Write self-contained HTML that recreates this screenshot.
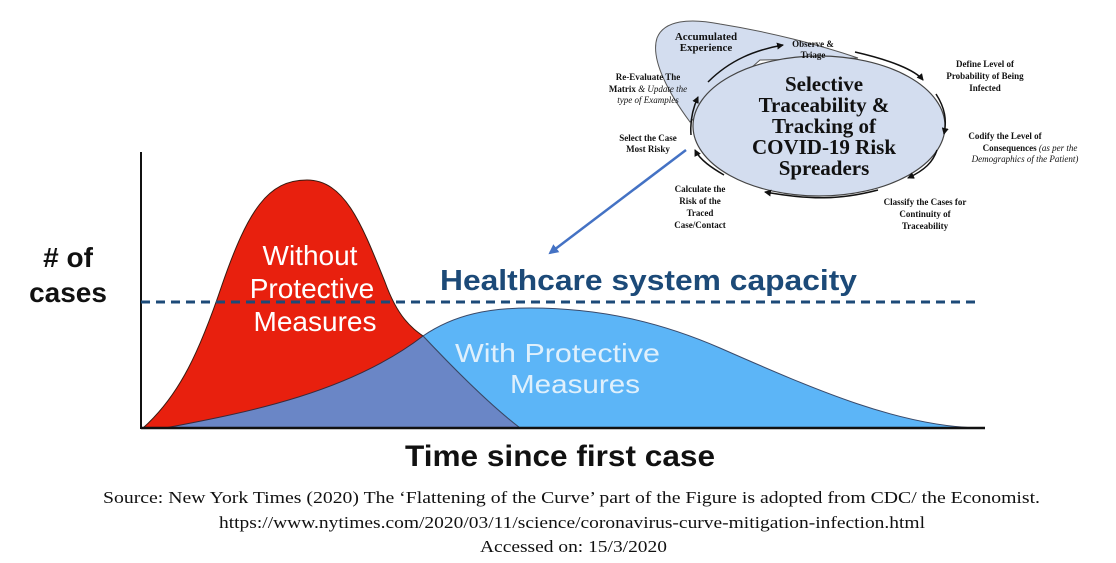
<!DOCTYPE html>
<html><head><meta charset="utf-8"><style>
html,body{margin:0;padding:0;background:#fff;}
svg{display:block;}
</style></head><body>
<svg width="1116" height="563" viewBox="0 0 1116 563" xmlns="http://www.w3.org/2000/svg">
<defs>
<clipPath id="blueclip"><path d="M165,428 C250,412 350,392 423,336 C455,314 490,308 530,308 C600,308 660,322 720,348 C820,392 900,426 978,428 Z"/></clipPath>
<marker id="ah" markerWidth="10" markerHeight="10" refX="8" refY="5" orient="auto" markerUnits="userSpaceOnUse"><path d="M0,0 L10,5 L0,10 Z" fill="#4472c4"/></marker>
<marker id="bk" markerWidth="7" markerHeight="7" refX="6" refY="3.5" orient="auto" markerUnits="userSpaceOnUse"><path d="M0,0 L7,3.5 L0,7 Z" fill="#111"/></marker>
</defs>
<path d="M165,428 C250,412 350,392 423,336 C455,314 490,308 530,308 C600,308 660,322 720,348 C820,392 900,426 978,428 Z" fill="#5cb5f7" stroke="#3a4a6a" stroke-width="1"/>
<path d="M143,428 C180,395 200,350 222,285 C248,210 268,180 307,180 C345,180 362,225 385,282 C398,318 412,328 423,336 C455,370 490,405 520,428 Z" fill="#e8200e" stroke="#3a1a10" stroke-width="1"/>
<path d="M143,428 C180,395 200,350 222,285 C248,210 268,180 307,180 C345,180 362,225 385,282 C398,318 412,328 423,336 C455,370 490,405 520,428 Z" fill="#6a86c6" clip-path="url(#blueclip)"/>
<path d="M165,428 C250,412 350,392 423,336" fill="none" stroke="#3a2a3a" stroke-width="1"/>
<path d="M423,336 C455,370 490,405 520,428" fill="none" stroke="#3a4a6a" stroke-width="1"/>
<line x1="141" y1="152" x2="141" y2="429" stroke="#111" stroke-width="2"/>
<line x1="141" y1="428" x2="985" y2="428" stroke="#111" stroke-width="2.5"/>
<line x1="141" y1="302" x2="975" y2="302" stroke="#1c4a78" stroke-width="3" stroke-dasharray="9,6"/>
<g font-family="Liberation Sans, sans-serif" font-weight="bold">
<text x="68" y="267" font-size="28" text-anchor="middle" fill="#111">#&#160;of</text>
<text x="68" y="302" font-size="28" text-anchor="middle" fill="#111">cases</text>
<g fill="#fff" font-size="28" font-weight="normal" text-anchor="middle">
<text x="310" y="265">Without</text>
<text x="312" y="298">Protective</text>
<text x="315" y="331">Measures</text>
</g>
<text x="440" y="290" font-size="29" fill="#1c4a78" textLength="417" lengthAdjust="spacingAndGlyphs">Healthcare system capacity</text>
<g fill="#dff0fc" font-size="26" font-weight="normal">
<text x="455" y="362" textLength="205" lengthAdjust="spacingAndGlyphs">With Protective</text>
<text x="510" y="393" textLength="130" lengthAdjust="spacingAndGlyphs">Measures</text>
</g>
<text x="405" y="466" font-size="30" fill="#111" textLength="310" lengthAdjust="spacingAndGlyphs">Time since first case</text>
</g>
<g font-family="Liberation Serif, serif" font-size="17" fill="#111">
<text x="103" y="503" textLength="937" lengthAdjust="spacingAndGlyphs">Source: New York Times (2020) The ‘Flattening of the Curve’ part of the Figure is adopted from CDC/ the Economist.</text>
<text x="219" y="528" textLength="706" lengthAdjust="spacingAndGlyphs">https://www.nytimes.com/2020/03/11/science/coronavirus-curve-mitigation-infection.html</text>
<text x="480" y="552" textLength="187" lengthAdjust="spacingAndGlyphs">Accessed on: 15/3/2020</text>
</g>
<path d="M690,122 C670,95 650,60 657,38 C664,20 690,18 720,24 C770,32 820,45 858,58 L760,60 Z" fill="#d3ddef" stroke="#555" stroke-width="1"/>
<ellipse cx="819" cy="126" rx="126" ry="70" fill="#d3ddef" stroke="#444" stroke-width="1.2"/>
<g font-family="Liberation Serif, serif" font-weight="bold" fill="#111" text-anchor="middle">
<text x="824" y="91" font-size="21">Selective</text>
<text x="824" y="112" font-size="21">Traceability &amp;</text>
<text x="824" y="133" font-size="21">Tracking of</text>
<text x="824" y="154" font-size="21">COVID-19 Risk</text>
<text x="824" y="175" font-size="21">Spreaders</text>
<g font-size="11">
<text x="706" y="40">Accumulated</text>
<text x="706" y="51">Experience</text>
</g>
<g font-size="9">
<text x="813" y="47">Observe &amp;</text>
<text x="813" y="58">Triage</text>
<text x="985" y="67">Define Level of</text>
<text x="985" y="79">Probability of Being</text>
<text x="985" y="91">Infected</text>
<text x="648" y="80">Re-Evaluate The</text>
<text x="648" y="92">Matrix <tspan font-style="italic" font-weight="normal">&amp; Update the</tspan></text>
<text x="648" y="103" font-style="italic" font-weight="normal">type of Examples</text>
<text x="648" y="141">Select the Case</text>
<text x="648" y="152">Most Risky</text>
<text x="1005" y="139">Codify the Level of</text>
<text x="1025" y="162" font-style="italic" font-weight="normal">Demographics of the Patient)</text>
<text x="1030" y="151">Consequences<tspan font-style="italic" font-weight="normal"> (as per the</tspan></text>
<text x="700" y="192">Calculate the</text>
<text x="700" y="204">Risk of the</text>
<text x="700" y="216">Traced</text>
<text x="700" y="228">Case/Contact</text>
<text x="925" y="205">Classify the Cases for</text>
<text x="925" y="217">Continuity of</text>
<text x="925" y="229">Traceability</text>
</g>
</g>
<g fill="none" stroke="#111" stroke-width="1.5">
<path d="M708,82 C730,60 755,50 783,45" marker-end="url(#bk)"/>
<path d="M855,52 C890,60 915,70 923,80" marker-end="url(#bk)"/>
<path d="M936,94 C945,108 947,120 944,134" marker-end="url(#bk)"/>
<path d="M937,150 C933,162 925,170 908,178" marker-end="url(#bk)"/>
<path d="M878,190 C840,200 810,200 765,192" marker-end="url(#bk)"/>
<path d="M724,175 C712,168 700,160 695,150" marker-end="url(#bk)"/>
<path d="M691,135 C690,122 692,110 698,97" marker-end="url(#bk)"/>
</g>
<line x1="686" y1="150" x2="550" y2="253" stroke="#4472c4" stroke-width="2.5" marker-end="url(#ah)"/>
</svg>
</body></html>
